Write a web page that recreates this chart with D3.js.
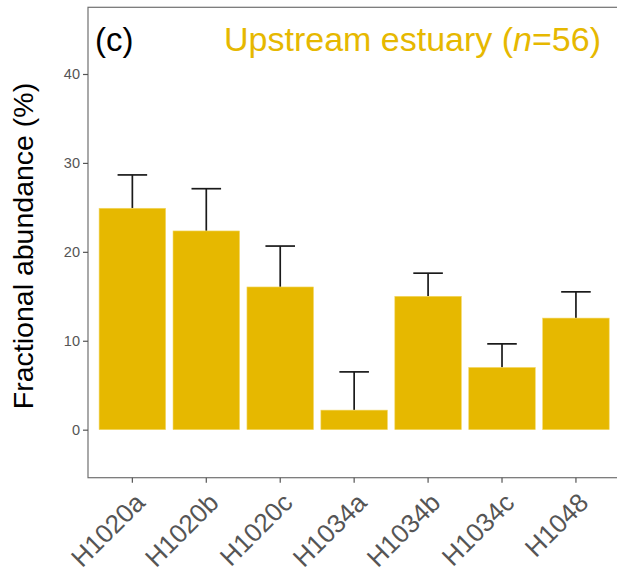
<!DOCTYPE html>
<html>
<head>
<meta charset="utf-8">
<script src="https://cdn.jsdelivr.net/npm/d3@7"></script>
<style>
  html, body { margin: 0; padding: 0; background: #fff; }
  svg { display: block; font-family: "Liberation Sans", Arial, Helvetica, sans-serif; }
</style>
</head>
<body>
<svg id="chart" width="617" height="574"></svg>
<script>
// ---- data ----
const categories = ["H1020a", "H1020b", "H1020c", "H1034a", "H1034b", "H1034c", "H1048"];
const means      = [24.9, 22.35, 16.05, 2.2, 15.0, 7.0, 12.55];
const upperErr   = [28.65, 27.1, 20.65, 6.5, 17.6, 9.65, 15.5];
const yTicks     = [0, 10, 20, 30, 40];
const panelLabel = "(c)";
const titleMain  = "Upstream estuary (";
const titleN     = "n";
const titleEnd   = "=56)";
const yLabel     = "Fractional abundance (%)";

// ---- layout ----
const pLeft = 88, pRight = 620.3, pTop = 7.3, pBottom = 477.7;
const gold = "#E6B800";

const svg = d3.select("#chart");

const x = d3.scaleBand()
  .domain(categories)
  .range([pLeft, pRight])
  .paddingInner(0.1)
  .paddingOuter(0.15);

const y = d3.scaleLinear()
  .domain([-5.4, 47.5])
  .range([pBottom, pTop]);

// panel border
svg.append("rect")
  .attr("x", pLeft).attr("y", pTop)
  .attr("width", pRight - pLeft).attr("height", pBottom - pTop)
  .attr("fill", "none")
  .attr("stroke", "#707070")
  .attr("stroke-width", 1.2);

const rows = categories.map((c, i) => ({ c, m: means[i], u: upperErr[i] }));

// error bars (upper only, behind bars)
const capW = x.step() * 0.4;
const eb = svg.append("g")
  .attr("stroke", "#1a1a1a")
  .attr("stroke-width", 1.7)
  .attr("fill", "none");
eb.selectAll("line.v").data(rows).join("line")
  .attr("class", "v")
  .attr("x1", d => x(d.c) + x.bandwidth() / 2)
  .attr("x2", d => x(d.c) + x.bandwidth() / 2)
  .attr("y1", d => y(d.m))
  .attr("y2", d => y(d.u));
eb.selectAll("line.h").data(rows).join("line")
  .attr("class", "h")
  .attr("x1", d => x(d.c) + x.bandwidth() / 2 - capW / 2)
  .attr("x2", d => x(d.c) + x.bandwidth() / 2 + capW / 2)
  .attr("y1", d => y(d.u))
  .attr("y2", d => y(d.u));

// bars
svg.append("g").selectAll("rect").data(rows).join("rect")
  .attr("x", d => x(d.c))
  .attr("width", x.bandwidth())
  .attr("y", d => y(d.m))
  .attr("height", d => y(0) - y(d.m))
  .attr("fill", gold)
  .attr("stroke", "#f3d866")
  .attr("stroke-width", 0.6);

// y axis
const yAxis = svg.append("g")
  .attr("transform", `translate(${pLeft},0)`)
  .call(d3.axisLeft(y).tickValues(yTicks).tickSize(5).tickPadding(3));
yAxis.select(".domain").remove();
yAxis.selectAll(".tick line").attr("stroke", "#555").attr("stroke-width", 1.2);
yAxis.selectAll(".tick text")
  .attr("fill", "#555")
  .style("font-size", "14.5px")
  .style("font-family", "'Liberation Sans', Arial, sans-serif");

// x axis
const xAxis = svg.append("g")
  .attr("transform", `translate(0,${pBottom})`)
  .call(d3.axisBottom(x).tickSize(5));
xAxis.select(".domain").remove();
xAxis.selectAll(".tick line").attr("stroke", "#555").attr("stroke-width", 1.2);
xAxis.selectAll(".tick text")
  .attr("fill", "#555")
  .style("font-size", "26px")
  .style("font-family", "'Liberation Sans', Arial, sans-serif")
  .attr("text-anchor", "end")
  .attr("x", 0)
  .attr("y", 0)
  .attr("dy", "0")
  .attr("transform", "translate(14,26.5) rotate(-45)");

// y label
svg.append("text")
  .attr("transform", `translate(33,246) rotate(-90)`)
  .attr("text-anchor", "middle")
  .attr("fill", "#000")
  .style("font-size", "28.5px")
  .text(yLabel);

// panel tag
svg.append("text")
  .attr("x", 95).attr("y", 51)
  .attr("fill", "#000")
  .style("font-size", "33px")
  .text(panelLabel);

// title
const t = svg.append("text")
  .attr("x", 601).attr("y", 51)
  .attr("text-anchor", "end")
  .attr("fill", gold)
  .style("font-size", "34px");
t.append("tspan").text(titleMain);
t.append("tspan").style("font-style", "italic").text(titleN);
t.append("tspan").text(titleEnd);
</script>
</body>
</html>
